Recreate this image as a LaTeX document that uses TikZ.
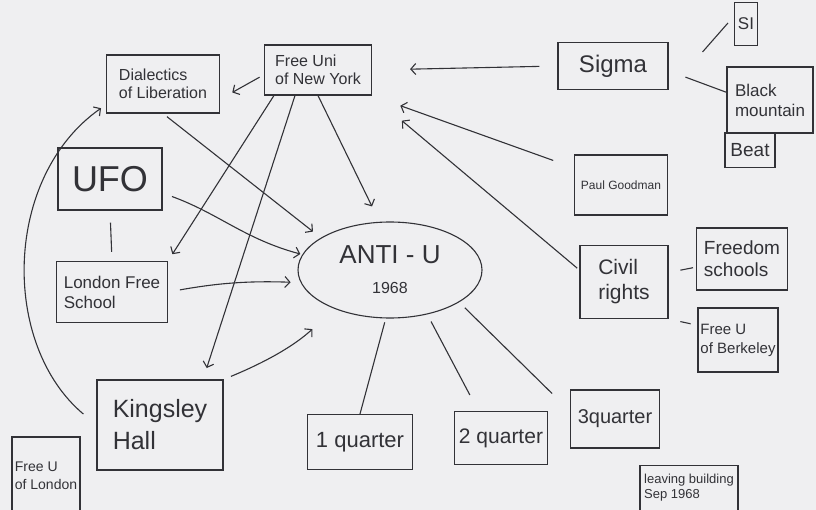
\documentclass[tikz,border=0pt]{standalone}
\usepackage{fontspec}
\setmainfont{Liberation Sans}
\usetikzlibrary{arrows.meta,shapes.geometric}
\definecolor{paper}{RGB}{239,239,241}
\definecolor{ink}{RGB}{50,50,55}
\begin{document}
\begin{tikzpicture}[x=1pt,y=1pt,line width=1.1pt,ink,
  bx/.style 2 args={draw,minimum width=#1pt,minimum height=#2pt,inner sep=0pt,align=left},
  sz/.style 2 args={font=\fontsize{#1}{#2}\selectfont},
  arr/.style={-{Straight Barb[length=5pt,width=11pt]}}]
\useasboundingbox (0,0) rectangle (816,-510);
\fill[paper] (0,0) rectangle (816,-510); \clip (0,0) rectangle (816,-510);
\node[bx={113}{58},sz={16}{18}] (dial) at (163,-84) {Dialectics\\of Liberation};
\node[bx={107}{50},sz={16}{18}] (fny) at (318,-70) {Free Uni\\of New York};
\node[bx={110}{47},sz={24}{26}] (sigma) at (613,-66) {Sigma};
\node[bx={23}{43},sz={17}{19}] (si) at (746,-24) {SI};
\node[bx={86}{66},sz={17}{20}] (black) at (770,-100) {Black\\mountain};
\node[bx={50}{35},sz={19}{21}] (beat) at (750,-150) {Beat};
\node[bx={104}{62},sz={36}{38}] (ufo) at (110,-179) {UFO};
\node[bx={93}{60},sz={12}{14}] (paul) at (621,-185) {Paul Goodman};
\node[bx={111}{61},sz={17}{20}] (lfs) at (112,-292) {London Free\\School};
\node[draw,ellipse,minimum width=184pt,minimum height=96pt,inner sep=0pt,align=center,sz={26}{30}] (anti) at (390,-270) {ANTI - U\\{\fontsize{16}{18}\selectfont 1968}};
\node[bx={88}{73},sz={21}{25}] (civil) at (624,-282) {Civil\\rights};
\node[bx={91}{62},sz={19}{22}] (freedom) at (742,-259) {Freedom\\schools};
\node[bx={80}{64},sz={15}{19}] (berk) at (738,-340) {Free U\\of Berkeley};
\node[bx={126}{90},sz={25}{32}] (kings) at (160,-425) {Kingsley\\Hall};
\node[bx={68}{78},sz={14}{18}] (flon) at (46,-476) {Free U\\of London};
\node[bx={105}{55},sz={22}{24}] (q1) at (360,-442) {1 quarter};
\node[bx={93}{53},sz={21}{24}] (q2) at (501,-438) {2 quarter};
\node[bx={89}{58},sz={20}{24}] (q3) at (615,-419) {3quarter};
\node[bx={98}{45},sz={13}{15}] (leave) at (689,-488) {leaving building\\Sep 1968};
\draw[arr,shorten <=5pt,shorten >=14pt] (fny.185) -- (dial.-15);
\draw[arr,shorten >=8pt] ([xshift=10pt]fny.south west) -- (lfs.north east);
\draw[arr,shorten >=12pt] ([xshift=-23pt]fny.south) -- ([xshift=43pt]kings.north);
\draw[arr] (fny.south) -- ([xshift=-18pt,yshift=15pt]anti.north);
\draw[arr,shorten <=5pt,shorten >=10pt] (dial.south) -- (anti.155);
\draw[arr,shorten <=10pt,shorten >=2pt] (ufo.-15) to[out=-20,in=165] (anti.170);
\draw[arr,shorten <=12pt,shorten >=10pt] (lfs.east) to[bend left=6] (anti.188);
\draw[arr,shorten <=8pt,shorten >=30pt] (kings.north east) to[bend right=10] (anti.215);
\draw[arr,shorten <=17pt,shorten >=6pt] (kings.west) to[out=140,in=-145] (dial.200);
\draw[arr,shorten <=18pt,shorten >=38pt] (sigma.west) -- (fny.east);
\draw[arr,shorten <=22pt,shorten >=30pt] (paul.160) -- (fny.south east);
\draw[arr,shorten <=3pt,shorten >=39pt] (civil.165) -- (fny.south east);
\draw ([shift={(34,-10)}]sigma.north east) -- ([shift={(-6,1)}]si.west);
\draw[shorten <=18pt] (sigma.-5) -- (black.170);
\draw[shorten <=12pt,shorten >=3pt] (civil.12) -- (freedom.190);
\draw[shorten <=12pt,shorten >=7pt] (civil.south east) -- (berk.160);
\draw[shorten <=12pt,shorten >=9pt] (ufo.south) -- (lfs.north);
\draw[shorten <=4pt] (anti.265) -- (q1.north);
\draw[shorten <=8pt,shorten >=18pt] (anti.-50) -- (q2.130);
\draw[shorten <=8pt,shorten >=25pt] (anti.-25) -- (q3.170);
\end{tikzpicture}
\end{document}
